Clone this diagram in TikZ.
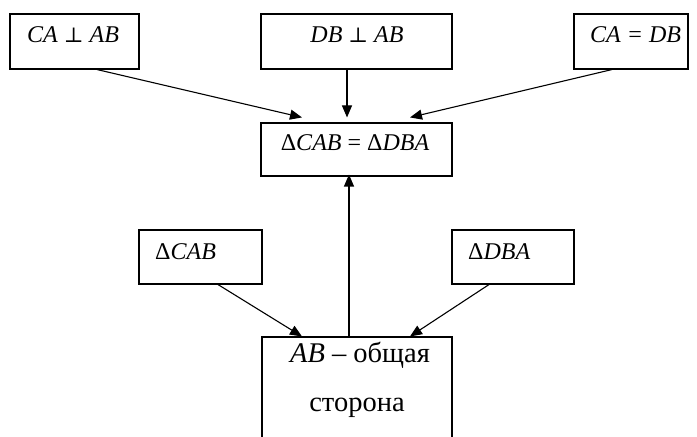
\documentclass[tikz,border=0pt]{standalone}
\usepackage{fontspec}
\setmainfont{Liberation Serif}
\newfontfamily\symfont{DejaVu Serif}
\usetikzlibrary{arrows.meta}
\newcommand{\pp}{{\upshape\symfont\fontsize{21bp}{24bp}\selectfont ⊥}}
\tikzset{
  box/.style={draw, line width=1.1bp, rectangle, inner sep=0pt},
  txt/.style={inner sep=0pt, font=\fontsize{24bp}{28bp}\selectfont},
  bigtxt/.style={inner sep=0pt, font=\fontsize{28.5bp}{32bp}\selectfont},
  arr/.style={line width=1.1bp, -{Triangle[length=12bp,width=10bp]}}
}
\begin{document}
\begin{tikzpicture}[x=1bp,y=-1bp]
\path[use as bounding box] (0,0) rectangle (697,437);
\clip (0,0) rectangle (697,437);
\node[box, minimum width=129bp, minimum height=55bp] (b1) at (74.5,41.5) {};
\node[box, minimum width=191bp, minimum height=55bp] (b2) at (356.5,41.5) {};
\node[box, minimum width=114bp, minimum height=55bp] (b3) at (631,41.5) {};
\node[box, minimum width=191bp, minimum height=53bp] (b4) at (356.5,149.5) {};
\node[box, minimum width=123bp, minimum height=54bp] (b5) at (200.5,257) {};
\node[box, minimum width=122bp, minimum height=54bp] (b6) at (513,257) {};
\node[box, minimum width=190bp, minimum height=120bp] (b7) at (357,397) {};
\node[txt, anchor=west] (t1) at (27,35) {\itshape CA \pp\ AB};
\node[txt] (t2) at (357,35) {\itshape DB \pp\ AB};
\node[txt, anchor=west] (t3) at (590,35) {\itshape CA = DB};
\node[txt] (t4) at (355,143) {\upshape Δ\itshape CAB \upshape= Δ\itshape DBA};
\node[txt, anchor=west] (t5) at (155,252) {\upshape Δ\itshape CAB};
\node[txt, anchor=west] (t6) at (468,252) {\upshape Δ\itshape DBA};
\node[bigtxt] (t7) at (360,355) {\textit{AB} – общая};
\node[bigtxt] (t8) at (357,408) {сторона};
\draw[arr] ([xshift=22.5bp]b1.south) -- ([xshift=-54.5bp,yshift=5bp]b4.north);
\draw[arr] ([xshift=-9.5bp]b2.south) -- ([xshift=-9.5bp,yshift=5bp]b4.north);
\draw[arr] ([xshift=-19bp]b3.south) -- ([xshift=53.5bp,yshift=5bp]b4.north);
\draw[arr] ([xshift=-8bp]b7.north) -- ([xshift=-7.5bp,yshift=2bp]b4.south);
\draw[arr] ([xshift=17.5bp]b5.south) -- ([xshift=-55bp]b7.north);
\draw[arr] ([xshift=-24bp]b6.south) -- ([xshift=53bp]b7.north);
\end{tikzpicture}
\end{document}
